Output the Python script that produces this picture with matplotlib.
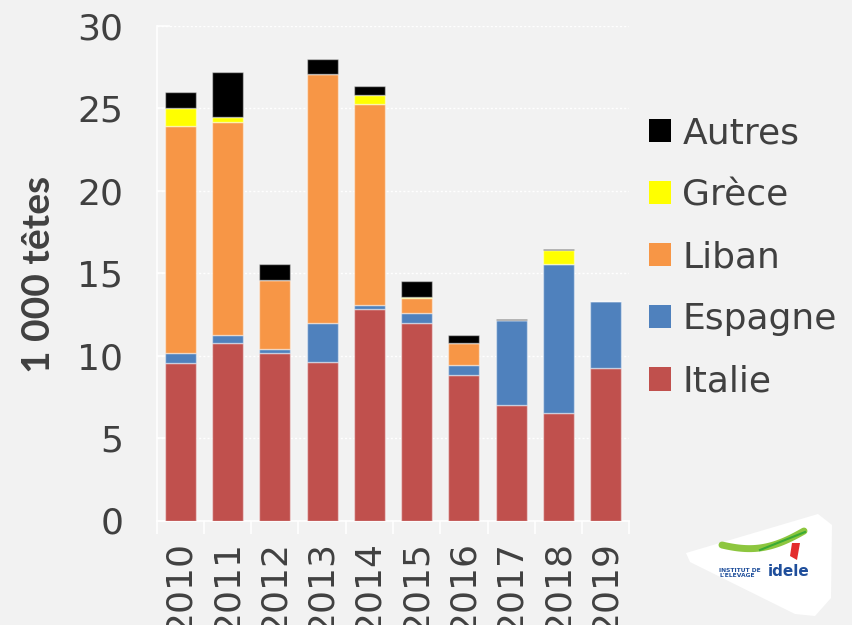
import matplotlib
matplotlib.use("Agg")
import matplotlib.pyplot as plt
import numpy as np
from matplotlib.patches import Polygon

years = ["2010", "2011", "2012", "2013", "2014", "2015", "2016", "2017", "2018", "2019"]
italie = [9.55, 10.77, 10.14, 9.62, 12.84, 11.99, 8.83, 7.02, 6.52, 9.25]
espagne = [0.60, 0.50, 0.24, 2.37, 0.26, 0.62, 0.58, 5.15, 9.07, 4.07]
liban = [13.80, 12.90, 4.20, 15.09, 12.18, 0.86, 1.36, 0.0, 0.0, 0.0]
grece = [1.05, 0.33, 0.0, 0.0, 0.52, 0.10, 0.0, 0.0, 0.85, 0.0]
autres = [0.97, 2.68, 1.00, 0.89, 0.59, 0.99, 0.49, 0.03, 0.05, 0.0]

series = [("Italie", italie, "#C0504D"),
          ("Espagne", espagne, "#4F81BD"),
          ("Liban", liban, "#F79646"),
          ("Grèce", grece, "#FFFF00"),
          ("Autres", autres, "#000000")]

BG = "#F2F2F2"
TXT = "#404040"
FONT = "DejaVu Sans"

W, H = 852, 625
fig = plt.figure(figsize=(W / 100, H / 100), dpi=100, facecolor=BG)
ax = fig.add_axes([156.7 / W, 1 - 520.5 / H, (629.3 - 156.7) / W, (520.5 - 26) / H])
ax.set_facecolor(BG)

x = np.arange(len(years))
bottom = np.zeros(len(years))
handles = []
for name, vals, col in series:
    v = np.array(vals)
    b = ax.bar(x, v, width=0.66, bottom=bottom, color=col, label=name,
               edgecolor=(1, 1, 1, 0.45), linewidth=1.0, zorder=3)
    handles.append(b)
    bottom += v

ax.set_xlim(-0.5, len(years) - 0.5)
ax.set_ylim(0, 30)
ax.set_yticks(np.arange(0, 31, 5))
ax.yaxis.grid(True, color="white", linestyle=(0, (1.5, 1.5)), linewidth=1.0, zorder=1)
ax.set_axisbelow(True)

for s in ["top", "right"]:
    ax.spines[s].set_visible(False)
for s in ["left", "bottom"]:
    ax.spines[s].set_color("white")
    ax.spines[s].set_linewidth(1.2)

ax.tick_params(axis="y", direction="in", length=9, width=1.2, color="white",
               pad=24, labelsize=26, labelcolor=TXT)
ax.set_xticks(x)
ax.set_xticklabels(years, rotation=90, fontsize=26, color=TXT, fontfamily=FONT)
ax.tick_params(axis="x", which="major", length=0, pad=15)
ax.set_xticks(np.arange(-0.5, len(years), 1.0), minor=True)
ax.tick_params(axis="x", which="minor", length=9, width=1.2, color="white", direction="out")
for lbl in ax.get_yticklabels():
    lbl.set_fontfamily(FONT)

fig.text(39 / W, 1 - 274 / H, "1 000 têtes", rotation=90, ha="center", va="center",
         fontsize=28, fontweight="bold", color=TXT, fontfamily="Lato")

leg = fig.legend(handles[::-1], [s[0] for s in series][::-1],
                 loc="upper left", bbox_to_anchor=(649 / W, 1 - 116 / H),
                 frameon=False, handlelength=0.62, handleheight=0.62,
                 handletextpad=0.3, labelspacing=0.78, borderpad=0, borderaxespad=0,
                 prop={"family": FONT, "size": 26})
for t in leg.get_texts():
    t.set_color(TXT)
for h in leg.legend_handles:
    h.set_edgecolor("none")

# Logo (approximate)
def fx(px):
    return px / W

def fy(py):
    return 1 - py / H

logo = Polygon([(fx(686), fy(553)), (fx(818), fy(514)), (fx(832), fy(525)),
                (fx(831), fy(598)), (fx(815), fy(616)), (fx(795), fy(614)),
                (fx(690), fy(562))], closed=True, transform=fig.transFigure,
               facecolor="white", edgecolor="none")
fig.patches.append(logo)
tt = np.linspace(0, 1, 40)
gx = 722 + 82 * tt
gy = 545 - 14 * tt ** 2 + 6 * np.sin(np.pi * tt)
fig.add_artist(plt.Line2D([fx(v) for v in gx], [fy(v) for v in gy], color="#8DC63F",
                          linewidth=5, transform=fig.transFigure, solid_capstyle="round"))
gx2 = 760 + 45 * tt
gy2 = 550 - 18 * tt
fig.add_artist(plt.Line2D([fx(v) for v in gx2], [fy(v) for v in gy2], color="#3AAA35",
                          linewidth=1.5, transform=fig.transFigure))
red = Polygon([(fx(792), fy(543)), (fx(800), fy(543)), (fx(797), fy(560)), (fx(790), fy(556))],
              closed=True, transform=fig.transFigure, facecolor="#E32D2D", edgecolor="none")
fig.patches.append(red)
fig.text(fx(719), fy(573), "INSTITUT DE\nL'ELEVAGE", fontsize=4.3, fontweight="bold",
         color="#1F4E9B", ha="left", va="center", linespacing=1.1, fontfamily="DejaVu Sans")
fig.text(fx(768), fy(572), "idele", fontsize=11, fontweight="bold", color="#1F4E9B",
         ha="left", va="center", fontfamily="DejaVu Sans")

fig.savefig("out.png", dpi=100, facecolor=BG)
